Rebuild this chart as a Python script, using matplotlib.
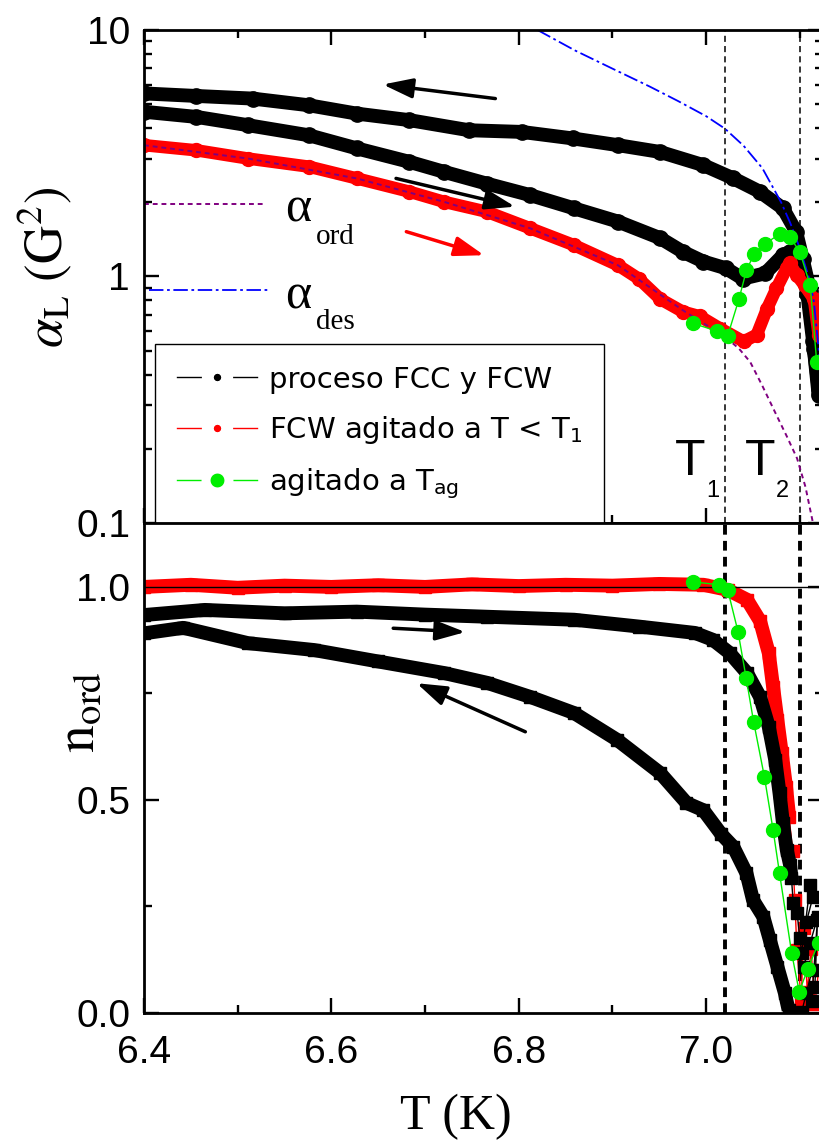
import matplotlib
matplotlib.use("Agg")
import matplotlib.pyplot as plt
from matplotlib.lines import Line2D
from matplotlib.font_manager import FontProperties
from matplotlib.ticker import MultipleLocator, FixedLocator, NullFormatter

plt.rcParams['font.family'] = 'Liberation Sans'
plt.rcParams['mathtext.fontset'] = 'stix'

# ---- top panel: alpha_L (G^2), log scale ----
fcc_T = [6.400, 6.456, 6.516, 6.576, 6.627, 6.683, 6.747, 6.803, 6.858, 6.906,
         6.951, 6.997, 7.029, 7.057, 7.082, 7.096, 7.103, 7.111, 7.115, 7.120]
fcc_a = [5.53, 5.40, 5.27, 4.95, 4.58, 4.31, 3.92, 3.86, 3.63, 3.41,
         3.20, 2.83, 2.50, 2.21, 1.89, 1.52, 1.18, 0.87, 0.51, 0.35]

fcw_T = [6.400, 6.456, 6.511, 6.576, 6.627, 6.683, 6.720, 6.766, 6.812, 6.859,
         6.906, 6.951, 6.975, 6.997, 7.021, 7.039, 7.063, 7.082, 7.089, 7.100,
         7.108, 7.114, 7.120]
fcw_a = [4.66, 4.44, 4.11, 3.74, 3.31, 2.92, 2.66, 2.38, 2.14, 1.89,
         1.67, 1.43, 1.26, 1.15, 1.08, 0.98, 1.03, 1.22, 1.26, 1.18,
         0.85, 0.55, 0.33]

agit_T = [6.400, 6.456, 6.511, 6.576, 6.627, 6.683, 6.720, 6.766, 6.812, 6.859,
          6.906, 6.928, 6.951, 6.975, 6.993, 7.015, 7.040, 7.054, 7.065, 7.075,
          7.086, 7.089, 7.097, 7.105, 7.115, 7.120]
agit_a = [3.41, 3.25, 3.01, 2.79, 2.50, 2.21, 2.01, 1.83, 1.57, 1.34,
          1.11, 0.98, 0.81, 0.72, 0.69, 0.615, 0.545, 0.58, 0.74, 0.894,
          1.08, 1.13, 1.01, 0.92, 0.81, 0.58]

tag_T = [6.986, 7.012, 7.023, 7.035, 7.043, 7.051, 7.063, 7.079, 7.089, 7.100, 7.111, 7.118]
tag_a = [0.645, 0.60, 0.575, 0.81, 1.06, 1.23, 1.36, 1.49, 1.45, 1.26, 0.92, 0.45]

ord_T = [6.40, 6.511, 6.627, 6.720, 6.812, 6.906, 6.975, 7.020, 7.035, 7.047,
         7.060, 7.075, 7.086, 7.097, 7.106, 7.114, 7.120]
ord_a = [3.41, 3.01, 2.50, 2.01, 1.57, 1.11, 0.73, 0.57, 0.51, 0.45,
         0.36, 0.274, 0.225, 0.183, 0.14, 0.10, 0.08]

des_T = [6.82, 6.86, 6.90, 6.94, 6.97, 7.00, 7.02, 7.04, 7.06, 7.08,
         7.09, 7.10, 7.11, 7.115, 7.12, 7.125]
des_a = [10.0, 8.26, 6.97, 5.89, 5.15, 4.47, 3.98, 3.39, 2.75, 2.00,
         1.64, 1.30, 0.98, 0.79, 0.51, 0.30]

# inline keys for the two model curves
ord_key_T = [6.400, 6.528]
ord_key_a = [1.96, 1.96]
des_key_T = [6.405, 6.534]
des_key_a = [0.88, 0.88]

# ---- bottom panel: n_ord ----
n_agit_T = [6.400, 6.45, 6.50, 6.55, 6.60, 6.65, 6.70, 6.75, 6.80, 6.85, 6.90, 6.95,
            6.997, 7.023, 7.0436, 7.0575, 7.0668, 7.0714, 7.076, 7.0807, 7.0853, 7.0886,
            7.0922, 7.0946, 7.0969, 7.1015, 7.104, 7.108, 7.112, 7.116, 7.120]
n_agit = [1.000, 1.005, 0.998, 1.003, 1.000, 1.004, 1.000, 1.006, 1.002, 1.005, 1.003, 1.007,
          1.005, 0.993, 0.970, 0.920, 0.845, 0.766, 0.688, 0.610, 0.530, 0.460,
          0.380, 0.265, 0.148, 0.030, 0.200, 0.050, 0.150, 0.020, 0.100]

n_fcw_T = [6.400, 6.465, 6.55, 6.627, 6.70, 6.766, 6.859, 6.928, 6.988, 7.007,
           7.025, 7.0436, 7.0575, 7.0668, 7.0737, 7.0783, 7.082, 7.086, 7.0896, 7.091,
           7.093, 7.097, 7.100, 7.102, 7.111, 7.114, 7.107, 7.118, 7.111, 7.104,
           7.113, 7.107, 7.102, 7.1125, 7.119, 7.116]
n_fcw = [0.934, 0.946, 0.938, 0.942, 0.935, 0.930, 0.923, 0.907, 0.892, 0.876,
         0.845, 0.798, 0.742, 0.672, 0.594, 0.516, 0.445, 0.383, 0.347, 0.317,
         0.257, 0.235, 0.176, 0.141, 0.300, 0.273, 0.214, 0.218, 0.164, 0.109,
         0.100, 0.047, 0.003, 0.027, 0.226, 0.060]

n_fcc_T = [6.400, 6.442, 6.511, 6.581, 6.650, 6.720, 6.766, 6.812, 6.859, 6.905,
           6.951, 6.979, 6.997, 7.016, 7.029, 7.043, 7.050, 7.061, 7.068, 7.076,
           7.084, 7.088]
n_fcc = [0.891, 0.904, 0.868, 0.852, 0.825, 0.798, 0.775, 0.742, 0.704, 0.641,
         0.563, 0.493, 0.476, 0.420, 0.390, 0.328, 0.265, 0.226, 0.171, 0.109,
         0.047, 0.007]

n_tag_T = [6.986, 7.0135, 7.023, 7.034, 7.0427, 7.0506, 7.0621, 7.0714, 7.0783,
           7.0913, 7.0993, 7.1084, 7.120]
n_tag = [1.012, 1.005, 0.993, 0.895, 0.786, 0.684, 0.555, 0.430, 0.328,
         0.140, 0.050, 0.103, 0.165]

T1 = 7.02
T2 = 7.10

# arrows: (tail T, tail y, head T, head y, colour)
top_arrows = [(6.775, 5.27, 6.655, 6.01, 'k'),
              (6.669, 2.50, 6.796, 1.92, 'k'),
              (6.680, 1.52, 6.763, 1.22, 'r')]
bot_arrows = [(6.666, 0.903, 6.743, 0.894, 'k'),
              (6.807, 0.660, 6.691, 0.774, 'k')]

green = '#00ee00'

fig = plt.figure(figsize=(8.2, 11.48), dpi=100)
ax1 = fig.add_axes([144/820, (1148-523)/1148, 679/820, 493/1148])
ax2 = fig.add_axes([144/820, (1148-1013)/1148, 679/820, 490/1148], sharex=ax1)

# top panel
ax1.axvline(T1, color='k', lw=1.1, ls=(0, (4, 2.7)), zorder=1)
ax1.axvline(T2, color='k', lw=1.1, ls=(0, (4, 2.7)), zorder=1)
band = dict(solid_joinstyle='round', solid_capstyle='round')
ax1.plot(fcc_T, fcc_a, color='k', lw=10, marker='o', ms=11, **band)
ax1.plot(fcw_T, fcw_a, color='k', lw=10, marker='o', ms=11, **band)
ax1.plot(agit_T, agit_a, color='red', lw=9, marker='o', ms=10, **band)
ax1.plot(ord_T, ord_a, color='#800080', lw=1.4, ls=(0, (2.5, 2)))
ax1.plot(ord_key_T, ord_key_a, color='#800080', lw=1.4, ls=(0, (2.5, 2)))
ax1.plot(des_T, des_a, color='blue', lw=1.3, ls=(0, (8, 2, 1.5, 2)))
ax1.plot(des_key_T, des_key_a, color='blue', lw=1.3, ls=(0, (8, 2, 1.5, 2)))
ax1.plot(tag_T, tag_a, color=green, lw=1, marker='o', ms=10, mec=green, zorder=5)

for t0, y0, t1, y1, c in top_arrows:
    ax1.annotate('', xy=(t1, y1), xytext=(t0, y0),
                 arrowprops=dict(arrowstyle='-|>,head_length=0.9,head_width=0.3',
                                 color=c, lw=2.5, mutation_scale=20, shrinkA=0, shrinkB=0))

ax1.text(6.5505, 1.67, 'α', family='Liberation Serif', fontsize=36, ha='left', va='baseline')
ax1.text(6.5831, 1.36, 'ord', family='Liberation Serif', fontsize=21, ha='left', va='baseline')
ax1.text(6.5505, 0.742, 'α', family='Liberation Serif', fontsize=36, ha='left', va='baseline')
ax1.text(6.5831, 0.615, 'des', family='Liberation Serif', fontsize=21, ha='left', va='baseline')

ax1.text(6.967, 0.156, 'T', fontsize=36, ha='left', va='baseline')
ax1.text(7.0, 0.128, '1', fontsize=17, ha='left', va='baseline')
ax1.text(7.041, 0.156, 'T', fontsize=36, ha='left', va='baseline')
ax1.text(7.0745, 0.128, '2', fontsize=17, ha='left', va='baseline')

ax1.set_yscale('log')
ax1.set_ylim(0.1, 10)
ax1.set_yticks([0.1, 1, 10])
ax1.set_yticklabels(['0.1', '1', '10'])
ax1.yaxis.set_minor_formatter(NullFormatter())

handles = [
    Line2D([], [], color='k', lw=1, marker='o', ms=14, mfc='k', mec='white', mew=8.5),
    Line2D([], [], color='red', lw=1, marker='o', ms=14, mfc='red', mec='white', mew=8.5),
    Line2D([], [], color=green, lw=1, marker='o', ms=16.5, mfc=green, mec='white', mew=6.5),
]
labels = ['proceso FCC y FCW', 'FCW agitado a T < T$_1$', r'agitado a T$_{\rm ag}$']
leg = ax1.legend(handles, labels, loc='lower left', bbox_to_anchor=(0.016, 0.0),
                 borderaxespad=0, numpoints=1, handlelength=2.75, handletextpad=0.4,
                 labelspacing=0.7, borderpad=0.75, fancybox=False, framealpha=1,
                 prop=FontProperties(family='DejaVu Sans', size=21, math_fontfamily='dejavusans'))
leg.get_frame().set_edgecolor('k')
leg.get_frame().set_linewidth(1.0)
leg.set_zorder(6)

# bottom panel
ax2.axvline(T1, color='k', lw=2.8, ls=(0, (2.5, 1.6)), zorder=1)
ax2.axvline(T2, color='k', lw=2.8, ls=(0, (2.5, 1.6)), zorder=1)
thick = dict(solid_joinstyle='round', solid_capstyle='butt')
ax2.plot(n_agit_T[:22], n_agit[:22], color='red', lw=10, **thick)
ax2.plot(n_agit_T, n_agit, color='red', lw=1, marker='s', ms=9)
ax2.plot(n_fcw_T[:20], n_fcw[:20], color='k', lw=10, **thick)
ax2.plot(n_fcw_T, n_fcw, color='k', lw=1, marker='s', ms=9)
ax2.plot(n_fcc_T, n_fcc, color='k', lw=10, marker='s', ms=9, **thick)
ax2.axhline(1.0, color='k', lw=1.0, zorder=4)
ax2.plot(n_tag_T, n_tag, color=green, lw=1, marker='o', ms=10, mec=green, zorder=5)

for t0, y0, t1, y1, c in bot_arrows:
    ax2.annotate('', xy=(t1, y1), xytext=(t0, y0),
                 arrowprops=dict(arrowstyle='-|>,head_length=0.9,head_width=0.3',
                                 color=c, lw=2.5, mutation_scale=20, shrinkA=0, shrinkB=0))

ax2.set_ylim(0, 1.15)
ax2.set_yticks([0.0, 0.5, 1.0])
ax2.set_yticklabels(['0.0', '0.5', '1.0'])
ax2.yaxis.set_minor_locator(FixedLocator([0.25, 0.75]))

ax2.set_xlim(6.4, 7.1247)
ax2.set_xticks([6.4, 6.6, 6.8, 7.0])
ax2.set_xticklabels(['6.4', '6.6', '6.8', '7.0'])
ax2.xaxis.set_minor_locator(MultipleLocator(0.1))

for ax in (ax1, ax2):
    for sp in ax.spines.values():
        sp.set_linewidth(2.0)
    ax.tick_params(which='both', direction='in', width=1.7, labelsize=28, right=True)
    ax.tick_params(which='major', length=11)
    ax.tick_params(which='minor', length=6)
    ax.tick_params(axis='y', pad=10)
ax1.tick_params(which='both', top=True, bottom=True, labelbottom=False)
ax2.tick_params(which='both', top=False, bottom=True)
ax2.tick_params(axis='x', pad=16)

fig.text(45/820, 1 - 267/1148, r'$\alpha_{\rm L}\ ({\rm G}^2)$', rotation=90,
         ha='center', va='center', fontsize=38, math_fontfamily='stix')
fig.text(80/820, 1 - 712/1148, r'${\rm n}_{\rm ord}$', rotation=90,
         ha='center', va='center', fontsize=40, math_fontfamily='stix')
fig.text(456/820, 1 - 1117/1148, 'T (K)', family='Liberation Serif',
         fontsize=36, ha='center', va='center')

fig.savefig('out.png', dpi=100)
